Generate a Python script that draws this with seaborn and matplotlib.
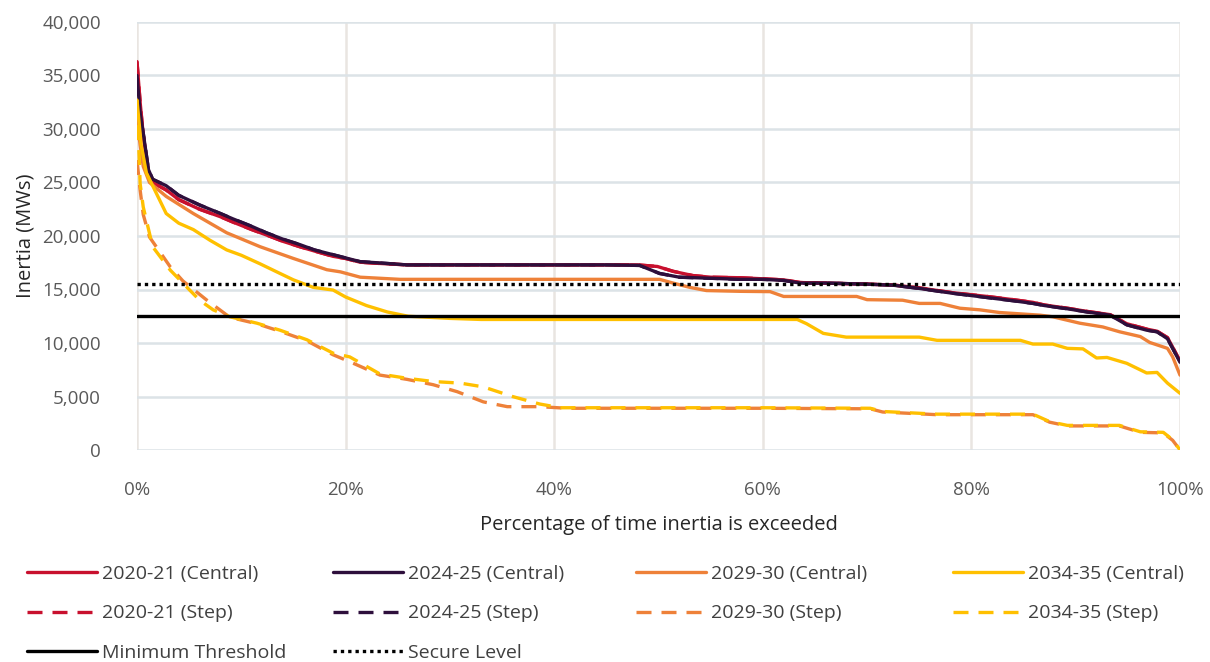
import matplotlib
matplotlib.use("Agg")
import matplotlib.pyplot as plt
import seaborn as sns
from matplotlib.ticker import FuncFormatter

# ---------------- data ----------------
red_x = [0, 0.3, 0.6, 1.1, 1.5, 2.8, 4, 6, 8, 9.2, 11, 12.4, 14, 15.6, 17, 18.8, 20, 21.4, 23, 25.9,
         30, 35, 40, 45, 48, 49.9, 51.4, 53.3, 55, 57.8, 60, 62, 63.6, 66, 70, 72.5, 75, 78.2, 81.5, 84,
         85.9, 87, 89.2, 91.1, 93.3, 94.9, 96.8, 97.8, 98.8, 99.3, 100]
red_y = [36300, 32500, 29400, 26000, 25000, 24300, 23400, 22500, 21800, 21300, 20600, 20100, 19500, 19000,
         18600, 18100, 17900, 17550, 17450, 17300, 17300, 17300, 17300, 17300, 17300, 17150, 16700, 16300,
         16150, 16100, 16000, 15900, 15650, 15600, 15500, 15420, 15150, 14700, 14350, 14050, 13800, 13550,
         13250, 12950, 12650, 11800, 11300, 11100, 10500, 9600, 8300]

purple_x = [0, 0.3, 0.6, 1.1, 1.5, 2.8, 4, 6, 8, 9.2, 11, 12.4, 14, 15.6, 17, 18.8, 20, 21.4, 23, 25.9,
            30, 35, 40, 45, 48.2, 50.1, 52, 55, 57.8, 60, 62, 63.6, 66, 70, 72.5, 75, 78.2, 81.5, 84, 85.9,
            87, 89.2, 91.1, 93.3, 94.9, 96.8, 97.8, 98.8, 99.3, 100]
purple_y = [35000, 31500, 29600, 26200, 25300, 24700, 23800, 22900, 22100, 21600, 20900, 20300, 19700, 19200,
            18700, 18250, 17950, 17600, 17500, 17300, 17300, 17300, 17300, 17300, 17250, 16500, 16150, 16050,
            15950, 15950, 15850, 15600, 15600, 15500, 15400, 15100, 14650, 14250, 13950, 13700, 13500, 13200,
            12900, 12600, 11700, 11200, 11050, 10400, 9500, 8200]

orange_x = [0, 0.3, 0.6, 1.2, 2.8, 5.4, 8.6, 11.8, 15, 18.2, 19.5, 21.4, 25.2, 30, 40, 50.1, 51.4, 53, 54.6,
            57.8, 60.7, 62, 69, 70, 73.4, 75, 77, 78.9, 80.8, 82.7, 86.6, 87.8, 90.4, 92.6, 94.2, 96.2, 97.1,
            98.8, 99.3, 100]
orange_y = [31000, 28500, 26500, 25000, 23700, 22100, 20300, 19000, 17900, 16850, 16650, 16150, 15950, 15950,
            15950, 15950, 15600, 15200, 14900, 14830, 14800, 14350, 14350, 14050, 14000, 13700, 13700, 13250,
            13100, 12850, 12600, 12450, 11850, 11500, 11050, 10600, 10050, 9500, 8700, 7000]

yellow_x = [0, 0.4, 0.9, 1.4, 2.8, 4, 5.4, 7, 8.6, 10, 11.8, 13.5, 15, 16.9, 18.8, 20, 22, 24, 26, 30, 33,
            40, 50, 60, 63.3, 64.2, 65.8, 68, 75, 76.7, 84.7, 85.9, 87.8, 89.2, 90.7, 92, 93, 94.9, 96.8,
            97.8, 98.8, 100]
yellow_y = [32700, 28500, 25900, 24900, 22100, 21200, 20600, 19600, 18700, 18200, 17400, 16600, 15900, 15200,
            14950, 14300, 13500, 12900, 12500, 12300, 12200, 12200, 12200, 12200, 12200, 11800, 10900, 10550,
            10550, 10250, 10250, 9900, 9900, 9500, 9450, 8600, 8650, 8100, 7200, 7250, 6250, 5300]

# Step scenario (2020-21 and 2024-25 coincide with Central)
step20_x, step20_y = red_x, red_y
step24_x, step24_y = purple_x, purple_y

ostep_x = [0, 0.3, 0.6, 1.2, 3.2, 4.4, 6.7, 8.9, 11.5, 13.7, 16.3, 18.8, 20.4, 23.3, 25.9, 28.4, 30.7, 33.2,
           35.5, 38.6, 41.2, 50, 60, 70.3, 71.5, 76.7, 85.9, 87.5, 89.2, 94.2, 96.2, 98.4, 99.3, 100]
ostep_y = [27100, 24300, 22000, 19900, 17100, 15800, 14000, 12400, 11800, 11100, 10200, 8900, 8250, 7000,
           6600, 6100, 5450, 4500, 4050, 4050, 3900, 3900, 3900, 3850, 3550, 3300, 3300, 2600, 2250, 2250,
           1650, 1600, 900, 0]

ystep_x = [0, 0.3, 0.6, 1.5, 3.2, 4.4, 6, 7.3, 8.9, 11.5, 13.7, 16.3, 18.8, 20.4, 23.3, 25.9, 28.4, 31,
           33.2, 36, 38.6, 40.6, 50, 60, 70.3, 71.5, 76.7, 85.9, 87.5, 89.2, 94.2, 96.2, 98.4, 99.3, 100]
ystep_y = [32700, 24900, 22700, 19000, 16800, 15600, 14000, 13100, 12450, 11850, 11200, 10300, 9050, 8700,
           7100, 6700, 6400, 6250, 5900, 5000, 4300, 3950, 3950, 3950, 3900, 3600, 3350, 3350, 2650, 2300,
           2300, 1700, 1650, 950, 0]

minimum_threshold = 12500
secure_level = 15500

series_labels = ["2020-21 (Central)", "2024-25 (Central)", "2029-30 (Central)", "2034-35 (Central)",
                 "2020-21 (Step)", "2024-25 (Step)", "2029-30 (Step)", "2034-35 (Step)",
                 "Minimum Threshold", "Secure Level"]
x_ticks = [0, 20, 40, 60, 80, 100]
y_ticks = [0, 5000, 10000, 15000, 20000, 25000, 30000, 35000, 40000]

# ---------------- style ----------------
sns.set_theme(style="white")
plt.rcParams["font.family"] = ["Open Sans", "DejaVu Sans"]

C_RED = "#C8102E"
C_PURPLE = "#2E0F3C"
C_ORANGE = "#EE8139"
C_YELLOW = "#FFC000"

fig = plt.figure(figsize=(12.10, 6.62), dpi=100)
ax = fig.add_axes([137 / 1210, 1 - 450 / 662, (1180 - 137) / 1210, (450 - 22) / 662])

LW = 2.4
DASH = (0, (4.5, 3.0))

handles = {}

def draw(x, y, color, label, ls="-", z=2):
    sns.lineplot(x=x, y=y, ax=ax, color=color, lw=LW, linestyle=ls, sort=False,
                 estimator=None, label=label, zorder=z, legend=False)
    return ax.lines[-1]

handles[series_labels[4]] = draw(step20_x, step20_y, C_RED, series_labels[4], DASH, 2)
handles[series_labels[5]] = draw(step24_x, step24_y, C_PURPLE, series_labels[5], DASH, 2)
handles[series_labels[0]] = draw(red_x, red_y, C_RED, series_labels[0], "-", 3)
handles[series_labels[1]] = draw(purple_x, purple_y, C_PURPLE, series_labels[1], "-", 3)
handles[series_labels[2]] = draw(orange_x, orange_y, C_ORANGE, series_labels[2], "-", 3)
handles[series_labels[3]] = draw(yellow_x, yellow_y, C_YELLOW, series_labels[3], "-", 3)
handles[series_labels[6]] = draw(ostep_x, ostep_y, C_ORANGE, series_labels[6], DASH, 4)
handles[series_labels[7]] = draw(ystep_x, ystep_y, C_YELLOW, series_labels[7], DASH, 4)

handles[series_labels[8]] = ax.axhline(minimum_threshold, color="black", lw=2.4, zorder=5,
                                       label=series_labels[8])
handles[series_labels[9]] = ax.axhline(secure_level, color="black", lw=2.4, zorder=5,
                                       linestyle=(0, (1, 1.2)), label=series_labels[9])

# axes
ax.set_xlim(0, 100)
ax.set_ylim(0, 40000)
ax.set_xticks(x_ticks)
ax.set_yticks(y_ticks)
ax.xaxis.set_major_formatter(FuncFormatter(lambda v, p: f"{int(v)}%"))
ax.yaxis.set_major_formatter(FuncFormatter(lambda v, p: f"{int(v):,}"))
ax.tick_params(axis="both", length=0, labelsize=13.5, labelcolor="#595959")
ax.tick_params(axis="y", pad=26)
ax.tick_params(axis="x", pad=22)
for s in ax.spines.values():
    s.set_visible(False)
ax.grid(axis="y", color="#DCE3E7", lw=1.8, zorder=0)
ax.grid(axis="x", color="#E9E5E1", lw=1.8, zorder=0)
ax.set_axisbelow(True)

ax.set_xlabel("Percentage of time inertia is exceeded", fontsize=14.5, color="#262626", labelpad=12)
ax.set_ylabel("Inertia (MWs)", fontsize=14.5, color="#262626", labelpad=5)

# legend: four columns placed like the reference
columns = [[0, 4, 8], [1, 5, 9], [2, 6], [3, 7]]
col_x = [27, 333, 636, 953]
for idx, xpix in zip(columns, col_x):
    leg = fig.legend([handles[series_labels[i]] for i in idx], [series_labels[i] for i in idx],
                     loc="upper left", bbox_to_anchor=(xpix / 1210, 1 - 565 / 662), ncol=1,
                     frameon=False, fontsize=14, handlelength=3.6, handletextpad=0.25,
                     labelspacing=1.1, borderaxespad=0, borderpad=0)
    for t in leg.get_texts():
        t.set_color("#404040")

fig.savefig("out.png", dpi=100, facecolor="white")
